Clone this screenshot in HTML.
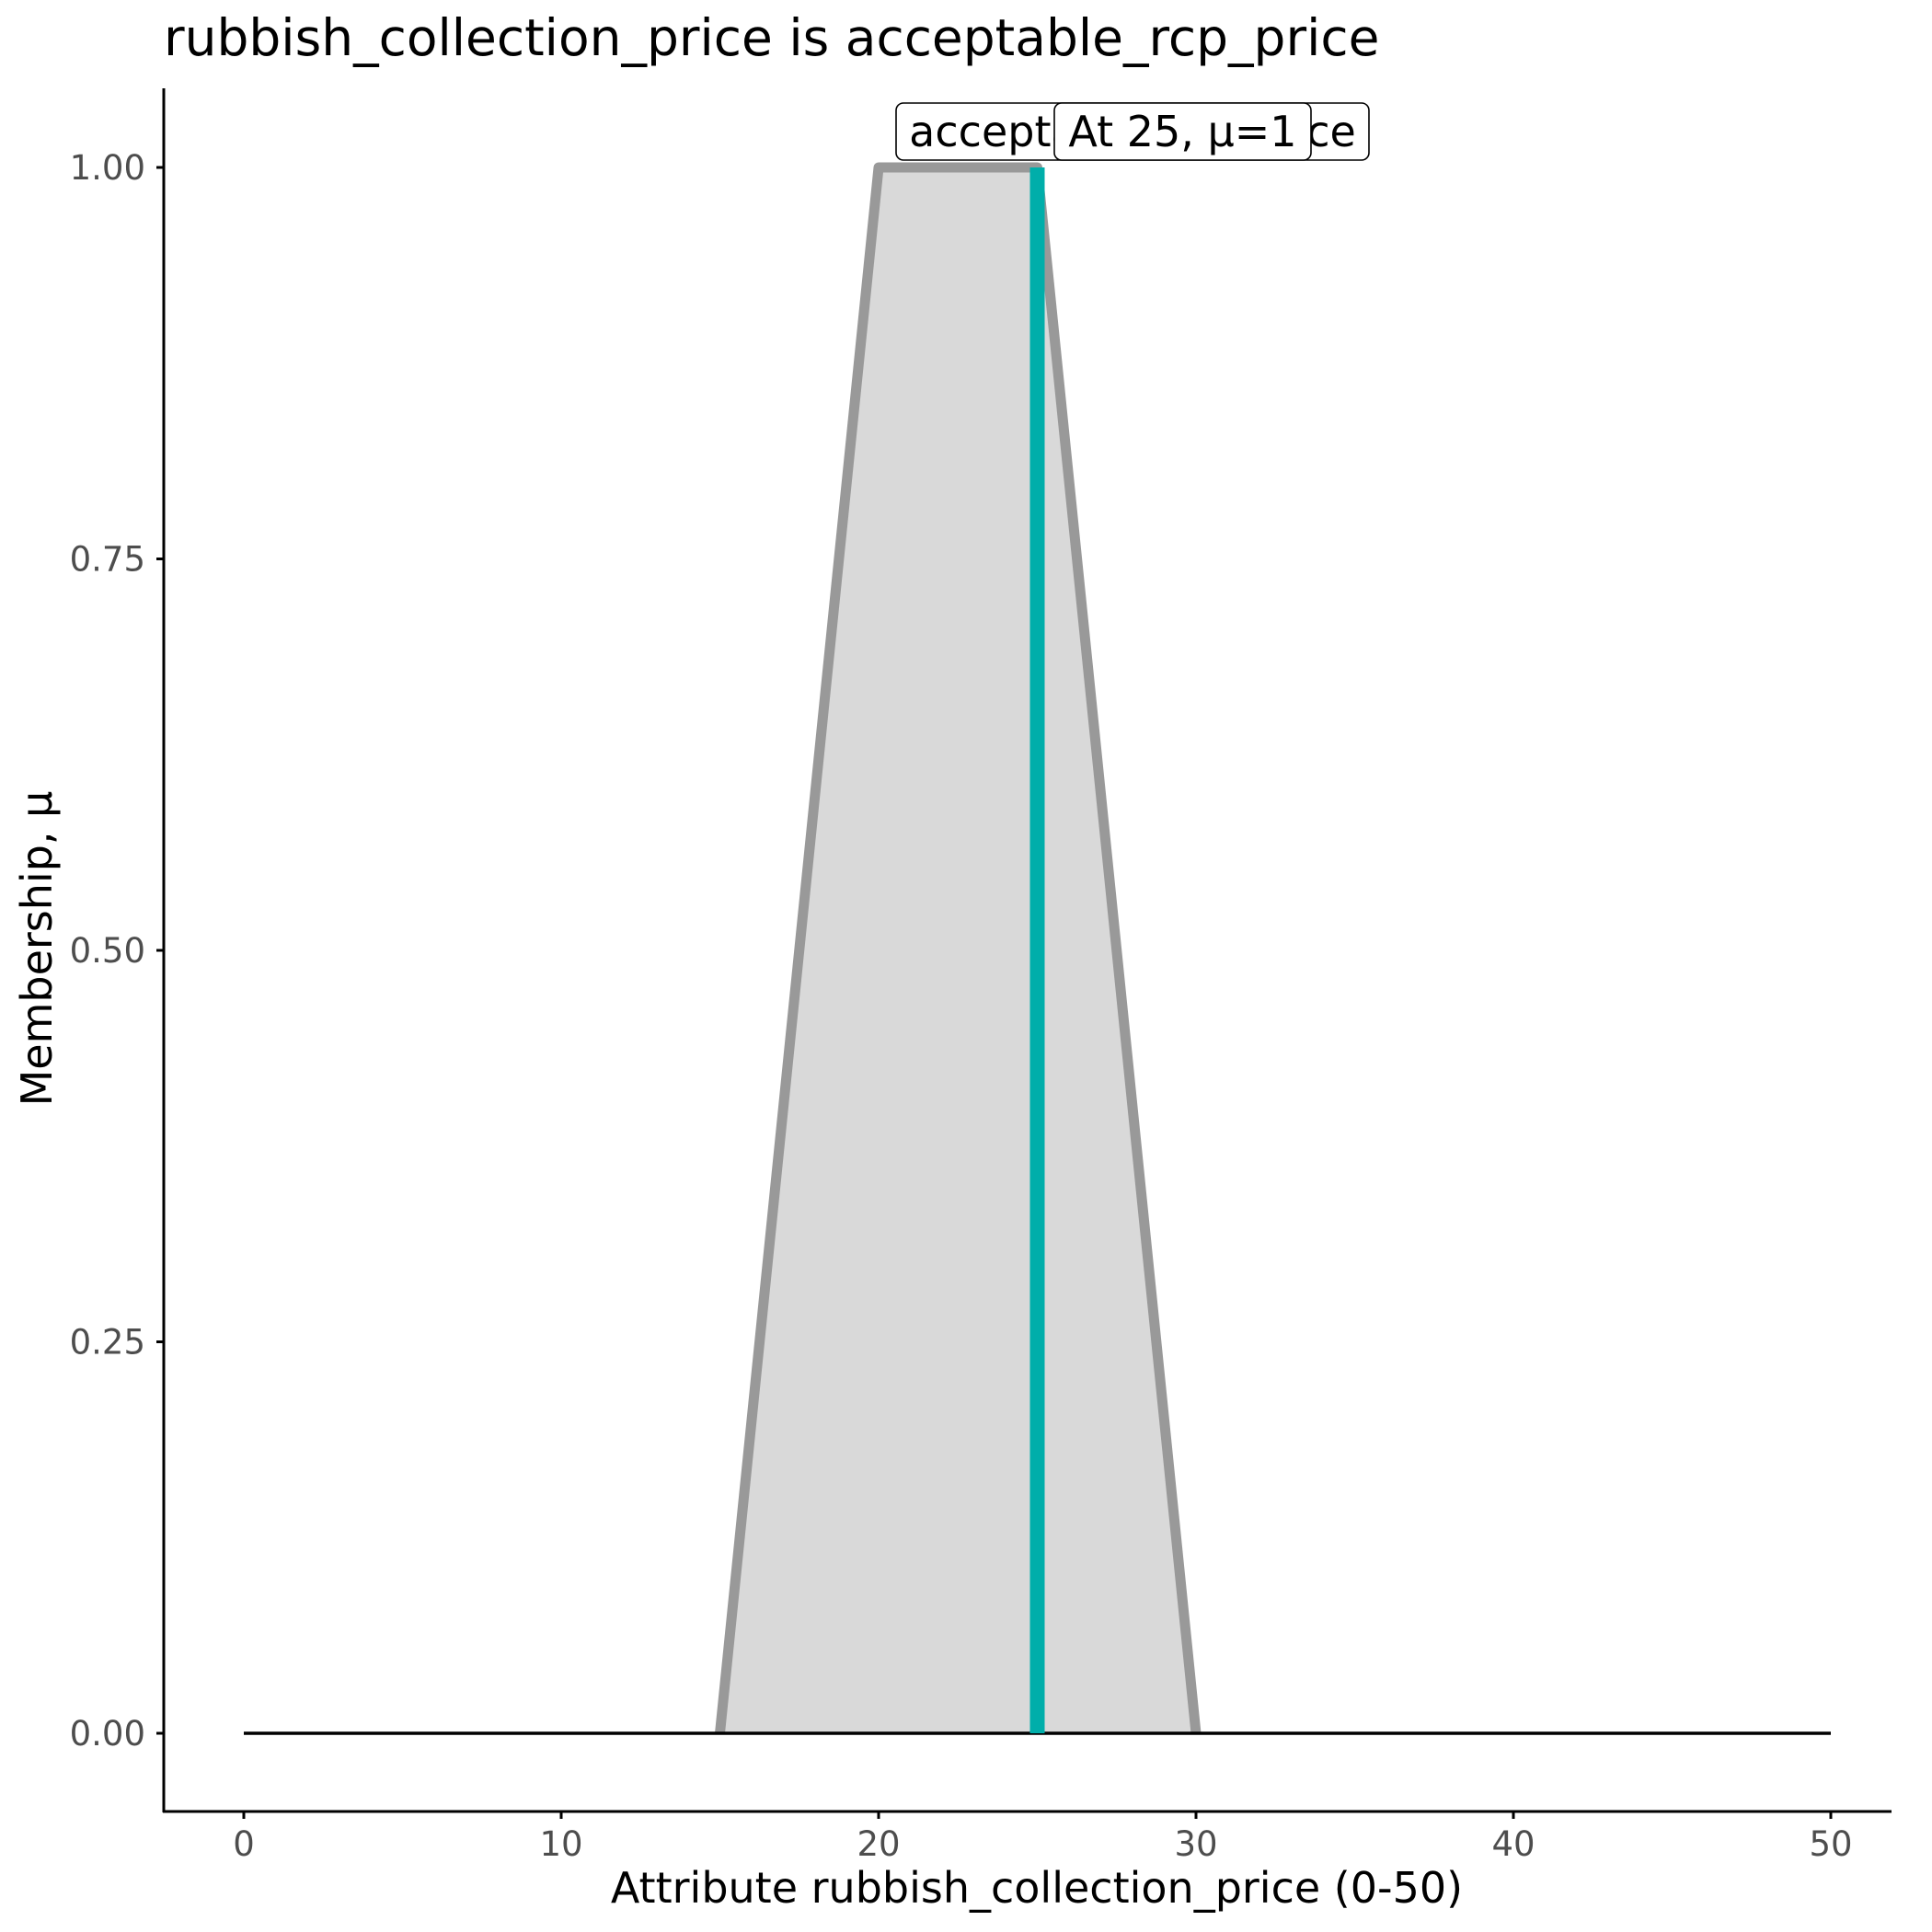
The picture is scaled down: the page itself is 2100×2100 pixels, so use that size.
<!DOCTYPE html>
<html><head><meta charset="utf-8"><style>body{margin:0;background:#fff}svg{display:block}text{font-family:"DejaVu Sans","Liberation Sans",sans-serif}</style></head>
<body>
<svg width="2100" height="2100" viewBox="0 0 2100 2100" xmlns="http://www.w3.org/2000/svg">
<rect width="2100" height="2100" fill="#fff"/>
<text x="178" y="60" font-size="55" fill="#000">rubbish_collection_price is acceptable_rcp_price</text>
<polygon points="782.5,1884 955,182 1127.5,182 1300,1884" fill="#d9d9d9"/>
<polyline points="782.5,1884 955,182 1127.5,182 1300,1884" fill="none" stroke="#999" stroke-width="11" stroke-linejoin="round"/>
<line x1="265" y1="1884" x2="1990" y2="1884" stroke="#000" stroke-width="3.5"/>
<line x1="1127.5" y1="182" x2="1127.5" y2="1884" stroke="#00AEAA" stroke-width="16"/>
<rect x="974" y="112" width="514" height="62" rx="8" fill="#fff" stroke="#000" stroke-width="1.6"/>
<text x="1231" y="159" font-size="46" text-anchor="middle">acceptable_rcp_price</text>
<rect x="1146" y="112" width="279" height="62" rx="8" fill="#fff" stroke="#000" stroke-width="1.6"/>
<text x="1285.5" y="159" font-size="46" text-anchor="middle">At 25, μ=1</text>
<line x1="178" y1="96" x2="178" y2="1970" stroke="#000" stroke-width="3"/>
<line x1="177" y1="1969" x2="2056" y2="1969" stroke="#000" stroke-width="3"/>
<g stroke="#000" stroke-width="3">
<line x1="170" y1="182" x2="178" y2="182"/><line x1="170" y1="607.5" x2="178" y2="607.5"/><line x1="170" y1="1033" x2="178" y2="1033"/><line x1="170" y1="1458.5" x2="178" y2="1458.5"/><line x1="170" y1="1884" x2="178" y2="1884"/>
<line x1="265" y1="1969" x2="265" y2="1977"/><line x1="610" y1="1969" x2="610" y2="1977"/><line x1="955" y1="1969" x2="955" y2="1977"/><line x1="1300" y1="1969" x2="1300" y2="1977"/><line x1="1645" y1="1969" x2="1645" y2="1977"/><line x1="1990" y1="1969" x2="1990" y2="1977"/>
</g>
<g font-size="37" fill="#4d4d4d" text-anchor="end">
<text x="158" y="195">1.00</text><text x="158" y="620.5">0.75</text><text x="158" y="1046">0.50</text><text x="158" y="1471.5">0.25</text><text x="158" y="1897">0.00</text>
</g>
<g font-size="37" fill="#4d4d4d" text-anchor="middle">
<text x="265" y="2017">0</text><text x="610" y="2017">10</text><text x="955" y="2017">20</text><text x="1300" y="2017">30</text><text x="1645" y="2017">40</text><text x="1990" y="2017">50</text>
</g>
<text x="1127" y="2068" font-size="46" text-anchor="middle">Attribute rubbish_collection_price (0-50)</text>
<text transform="translate(56,1031) rotate(-90)" font-size="46" text-anchor="middle">Membership, μ</text>
</svg>
</body></html>
